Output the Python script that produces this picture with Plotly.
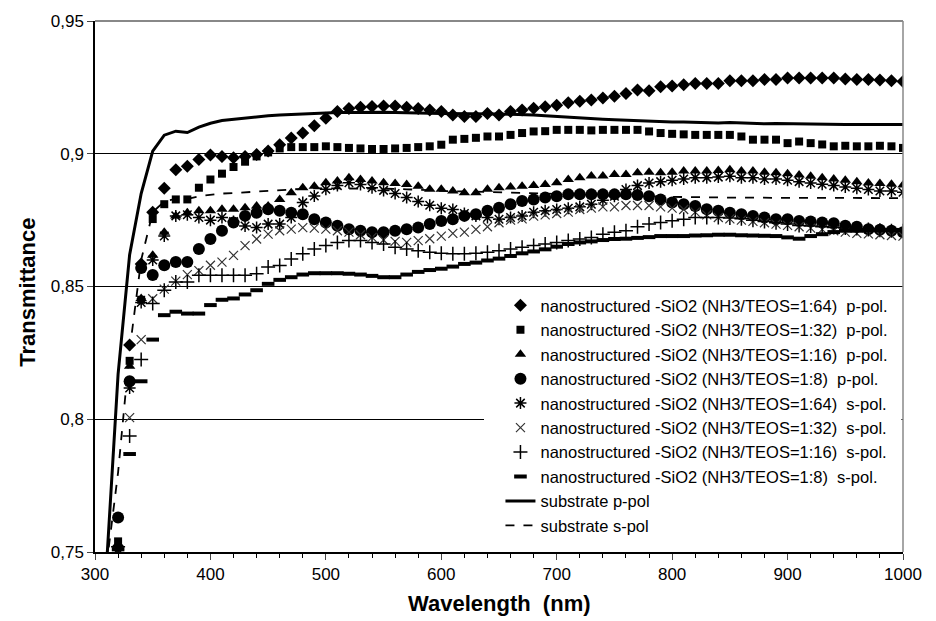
import plotly.graph_objects as go

# wavelengths (nm) for marker series and for substrate lines
wl_m = [320, 330, 340, 350, 360, 370, 380, 390, 400, 410, 420, 430, 440, 450, 460, 470, 480, 490,
        500, 510, 520, 530, 540, 550, 560, 570, 580, 590, 600, 610, 620, 630, 640, 650, 660, 670,
        680, 690, 700, 710, 720, 730, 740, 750, 760, 770, 780, 790, 800, 810, 820, 830, 840, 850,
        860, 870, 880, 890, 900, 910, 920, 930, 940, 950, 960, 970, 980, 990, 1000]
wl_s = [310] + wl_m

p64 = [0.752, 0.828, 0.8585, 0.878, 0.887, 0.894, 0.8953, 0.8978, 0.8995, 0.899, 0.8985, 0.899,
       0.8997, 0.901, 0.9034, 0.9059, 0.9078, 0.9105, 0.9134, 0.9159, 0.917, 0.9175, 0.9178, 0.918,
       0.918, 0.9175, 0.917, 0.9165, 0.9159, 0.9146, 0.914, 0.914, 0.9152, 0.9146, 0.9159, 0.9165,
       0.9171, 0.9177, 0.9183, 0.9192, 0.9198, 0.9202, 0.921, 0.9217, 0.9227, 0.924, 0.9237, 0.9252,
       0.9255, 0.926, 0.9265, 0.9265, 0.9265, 0.9275, 0.9275, 0.9275, 0.928, 0.928, 0.9285, 0.9285,
       0.9285, 0.9285, 0.9285, 0.9282, 0.928, 0.928, 0.9278, 0.9275, 0.9272]
p32 = [0.754, 0.822, 0.845, 0.8754, 0.881, 0.8828, 0.8828, 0.8872, 0.8903, 0.8925, 0.895, 0.897,
       0.899, 0.9005, 0.902, 0.9025, 0.9025, 0.9025, 0.9028, 0.9025, 0.9022, 0.902, 0.9018, 0.9018,
       0.902, 0.9022, 0.9025, 0.9028, 0.9034, 0.9053, 0.9056, 0.906, 0.9065, 0.9065, 0.9071, 0.9078,
       0.9084, 0.9085, 0.909, 0.909, 0.909, 0.9088, 0.909, 0.909, 0.909, 0.909, 0.9084, 0.9078,
       0.9075, 0.9073, 0.9071, 0.9071, 0.9071, 0.9071, 0.9065, 0.9053, 0.9053, 0.9053, 0.904, 0.9046,
       0.904, 0.9035, 0.9028, 0.903, 0.9028, 0.9028, 0.903, 0.9028, 0.9022]
p16 = [0.753, 0.820, 0.8455, 0.8618, 0.8704, 0.8766, 0.8778, 0.8785, 0.8785, 0.8791, 0.8791, 0.8797,
       0.8803, 0.8803, 0.8828, 0.8853, 0.8872, 0.8878, 0.8891, 0.8897, 0.891, 0.8903, 0.8897, 0.8891,
       0.8888, 0.8884, 0.8878, 0.8866, 0.8866, 0.886, 0.8853, 0.8853, 0.8866, 0.8872, 0.8875, 0.8878,
       0.888, 0.8884, 0.8891, 0.8903, 0.891, 0.8916, 0.8916, 0.8922, 0.8922, 0.8928, 0.893, 0.8928,
       0.893, 0.8935, 0.8935, 0.8935, 0.8937, 0.894, 0.8935, 0.8935, 0.893, 0.8928, 0.8925, 0.892,
       0.8915, 0.891, 0.8905, 0.89, 0.8895, 0.889, 0.8888, 0.8885, 0.8882]
p8 = [0.763, 0.8143, 0.857, 0.8543, 0.858, 0.8592, 0.8592, 0.8641, 0.8679, 0.871, 0.8741, 0.8766,
      0.8778, 0.8791, 0.8785, 0.8778, 0.8772, 0.8753, 0.8741, 0.8729, 0.8716, 0.871, 0.8704, 0.8704,
      0.871, 0.8716, 0.8722, 0.8735, 0.8747, 0.8753, 0.8766, 0.8772, 0.8785, 0.8797, 0.881, 0.8822,
      0.8828, 0.8835, 0.884, 0.8847, 0.8847, 0.8847, 0.8847, 0.8847, 0.8847, 0.8845, 0.884, 0.8828,
      0.8816, 0.881, 0.8803, 0.8791, 0.8785, 0.8778, 0.8772, 0.8766, 0.876, 0.8753, 0.8753, 0.8747,
      0.8745, 0.8741, 0.8738, 0.8729, 0.8725, 0.8716, 0.8714, 0.871, 0.8704]
s64 = [0.751, 0.8118, 0.844, 0.860, 0.869, 0.8766, 0.877, 0.876, 0.875, 0.876, 0.8745, 0.8728,
       0.8722, 0.8735, 0.8735, 0.876, 0.8816, 0.8841, 0.8866, 0.888, 0.8891, 0.8884, 0.8872, 0.8862,
       0.885, 0.8835, 0.882, 0.8806, 0.8795, 0.879, 0.8775, 0.8766, 0.876, 0.8753, 0.876, 0.8766,
       0.878, 0.8785, 0.879, 0.8795, 0.880, 0.881, 0.8825, 0.884, 0.8865, 0.888, 0.889, 0.8895,
       0.890, 0.8905, 0.891, 0.891, 0.8912, 0.8915, 0.891, 0.891, 0.8905, 0.8905, 0.890, 0.8895,
       0.889, 0.8885, 0.888, 0.8875, 0.887, 0.8865, 0.886, 0.886, 0.8855]
s32 = [0.750, 0.8006, 0.830, 0.8454, 0.849, 0.852, 0.8545, 0.856, 0.858, 0.8592, 0.8617, 0.8654,
       0.8679, 0.8697, 0.871, 0.8716, 0.8722, 0.872, 0.8716, 0.871, 0.8705, 0.8695, 0.8685, 0.8675,
       0.867, 0.8666, 0.8673, 0.868, 0.869, 0.870, 0.8705, 0.8715, 0.8725, 0.874, 0.875, 0.8755,
       0.8765, 0.877, 0.8775, 0.878, 0.879, 0.8795, 0.880, 0.880, 0.8805, 0.8805, 0.8805, 0.880,
       0.8795, 0.879, 0.878, 0.877, 0.876, 0.8755, 0.875, 0.8745, 0.874, 0.8735, 0.873, 0.8725,
       0.872, 0.8715, 0.871, 0.8705, 0.870, 0.8698, 0.8695, 0.8692, 0.869]
s16 = [0.752, 0.7937, 0.8225, 0.8436, 0.8486, 0.8517, 0.8517, 0.8542, 0.8542, 0.8542, 0.8542, 0.8542,
       0.8548, 0.8573, 0.8579, 0.8604, 0.8623, 0.8641, 0.8654, 0.8666, 0.8673, 0.8673, 0.8666, 0.866,
       0.8648, 0.8641, 0.8635, 0.8629, 0.8625, 0.8623, 0.8623, 0.8625, 0.8629, 0.8635, 0.8641, 0.8648,
       0.8654, 0.866, 0.8666, 0.8673, 0.8679, 0.8685, 0.8697, 0.8704, 0.871, 0.8725, 0.8735, 0.8741,
       0.8748, 0.8753, 0.876, 0.876, 0.876, 0.8758, 0.8755, 0.875, 0.8745, 0.874, 0.8735, 0.873,
       0.8728, 0.8725, 0.8722, 0.872, 0.8718, 0.8715, 0.8712, 0.871, 0.871]
s8 = [0.751, 0.7869, 0.8143, 0.830, 0.8392, 0.8405, 0.8398, 0.8398, 0.843, 0.845, 0.8455, 0.847,
      0.8486, 0.851, 0.8525, 0.8535, 0.8545, 0.855, 0.855, 0.855, 0.8548, 0.8545, 0.854, 0.8535,
      0.8535, 0.8545, 0.8555, 0.8562, 0.8567, 0.8575, 0.8585, 0.859, 0.8598, 0.8605, 0.8615, 0.8625,
      0.8632, 0.864, 0.865, 0.866, 0.8666, 0.867, 0.8675, 0.8679, 0.868, 0.8683, 0.8686, 0.869,
      0.869, 0.869, 0.8692, 0.8693, 0.8695, 0.8695, 0.8693, 0.8692, 0.8691, 0.869, 0.8685, 0.868,
      0.869, 0.8697, 0.8705, 0.871, 0.871, 0.8712, 0.8712, 0.8713, 0.8713]
sub_p = [0.745, 0.817, 0.862, 0.885, 0.901, 0.907, 0.9085, 0.908, 0.910, 0.9115, 0.9125, 0.913,
         0.9135, 0.914, 0.9143, 0.9146, 0.9148, 0.915, 0.9152, 0.9153, 0.9155, 0.9155, 0.9156, 0.9156,
         0.9156, 0.9155, 0.9155, 0.9154, 0.9153, 0.9152, 0.9152, 0.9152, 0.9151, 0.915, 0.915, 0.9149,
         0.9148, 0.9146, 0.9143, 0.914, 0.9137, 0.9135, 0.9133, 0.913, 0.9128, 0.9126, 0.9125, 0.9124,
         0.9122, 0.912, 0.912, 0.9118, 0.9118, 0.9116, 0.9118, 0.9116, 0.9115, 0.9113, 0.9114, 0.9113,
         0.9112, 0.9112, 0.9111, 0.9111, 0.911, 0.911, 0.911, 0.911, 0.911, 0.911]
sub_s = [0.745, 0.78, 0.826, 0.86, 0.878, 0.882, 0.883, 0.883, 0.884, 0.8845, 0.885, 0.8852,
         0.8855, 0.8858, 0.886, 0.8863, 0.8866, 0.8868, 0.887, 0.887, 0.887, 0.887, 0.887, 0.887,
         0.887, 0.8868, 0.8866, 0.8865, 0.8863, 0.886, 0.886, 0.8858, 0.8857, 0.8856, 0.8855, 0.8853,
         0.8852, 0.885, 0.885, 0.8848, 0.8847, 0.8846, 0.8845, 0.8845, 0.8843, 0.8842, 0.884, 0.884,
         0.8839, 0.8838, 0.8837, 0.8836, 0.8836, 0.8835, 0.8835, 0.8835, 0.8834, 0.8834, 0.8834, 0.8834,
         0.8834, 0.8834, 0.8833, 0.8833, 0.8833, 0.8833, 0.8833, 0.8833, 0.8833, 0.8833]

names = [
    "nanostructured -SiO2 (NH3/TEOS=1:64)  p-pol.",
    "nanostructured -SiO2 (NH3/TEOS=1:32)  p-pol.",
    "nanostructured -SiO2 (NH3/TEOS=1:16)  p-pol.",
    "nanostructured -SiO2 (NH3/TEOS=1:8)  p-pol.",
    "nanostructured -SiO2 (NH3/TEOS=1:64)  s-pol.",
    "nanostructured -SiO2 (NH3/TEOS=1:32)  s-pol.",
    "nanostructured -SiO2 (NH3/TEOS=1:16)  s-pol.",
    "nanostructured -SiO2 (NH3/TEOS=1:8)  s-pol.",
    "substrate p-pol",
    "substrate s-pol",
]
y_ticks = [0.75, 0.8, 0.85, 0.9, 0.95]
y_ticktext = ["0,75", "0,8", "0,85", "0,9", "0,95"]
x_ticks = [300, 400, 500, 600, 700, 800, 900, 1000]
x_title = "Wavelength  (nm)"
y_title = "Transmittance"

series = [p64, p32, p16, p8, s64, s32, s16, s8]
styles = [
    dict(symbol="diamond", size=10, color="black"),
    dict(symbol="square", size=8, color="black"),
    dict(symbol="triangle-up", size=10, color="black"),
    dict(symbol="circle", size=12, color="black"),
    dict(symbol="asterisk-open", size=10, color="black", line=dict(color="black", width=1.5)),
    dict(symbol="x-thin-open", size=9, color="#333", line=dict(color="#333", width=1.2)),
    dict(symbol="cross-thin-open", size=10, color="black", line=dict(color="black", width=1.5)),
    dict(symbol="line-ew-open", size=9, color="black", line=dict(color="black", width=4)),
]

FONT = "Liberation Sans, Arial, sans-serif"
fig = go.Figure()
for ys, st, nm in zip(series, styles, names):
    fig.add_trace(go.Scatter(x=wl_m, y=ys, mode="markers", name=nm, marker=st))
fig.add_trace(go.Scatter(x=wl_s, y=sub_p, mode="lines", name=names[8],
                         line=dict(color="black", width=3)))
fig.add_trace(go.Scatter(x=wl_s, y=sub_s, mode="lines", name=names[9],
                         line=dict(color="black", width=1.8, dash="dash")))

fig.update_layout(
    width=936, height=621,
    margin=dict(l=95, r=33, t=16, b=69),
    paper_bgcolor="white", plot_bgcolor="white",
    font=dict(family=FONT, color="black", size=17),
    showlegend=True,
    legend=dict(x=0.482, y=0.497, xanchor="left", yanchor="top", bgcolor="white",
                borderwidth=0, font=dict(size=16.5, family=FONT), indentation=16,
                tracegroupgap=0, itemwidth=30),
    xaxis=dict(range=[300, 1000], tickvals=x_ticks, ticks="outside", ticklen=6, tickwidth=1.2,
               showline=True, linecolor="black", linewidth=1.5, showgrid=False, zeroline=False,
               minor=dict(dtick=20, tick0=300, ticks="outside", ticklen=4, tickcolor="black", showgrid=False),
               tickfont=dict(size=17)),
    yaxis=dict(range=[0.75, 0.95], tickvals=y_ticks, ticktext=y_ticktext, ticks="outside", ticklen=6,
               tickwidth=1.2, showline=True, linecolor="black", linewidth=1.5, showgrid=True,
               gridcolor="black", gridwidth=1.4, zeroline=False, tickfont=dict(size=17)),
    annotations=[
        dict(text="<b>" + x_title + "</b>", xref="paper", yref="paper", x=0.5, y=-0.097,
             xanchor="center", yanchor="middle", showarrow=False, font=dict(size=22)),
        dict(text="<b>" + y_title + "</b>", xref="paper", yref="paper", x=-0.083, y=0.49,
             xanchor="center", yanchor="middle", textangle=-90, showarrow=False, font=dict(size=22)),
    ],
    shapes=[
        dict(type="rect", xref="paper", yref="paper", x0=0.482, x1=0.998, y0=0.004, y1=0.4955,
             fillcolor="white", line=dict(width=0), layer="above"),
        dict(type="line", xref="x domain", yref="y domain", x0=0, x1=1, y0=1, y1=1,
             line=dict(color="#888", width=2), layer="above"),
        dict(type="line", xref="x domain", yref="y domain", x0=1, x1=1, y0=0, y1=1,
             line=dict(color="#888", width=1.5), layer="above"),
    ],
)
fig.write_html("out.html")
